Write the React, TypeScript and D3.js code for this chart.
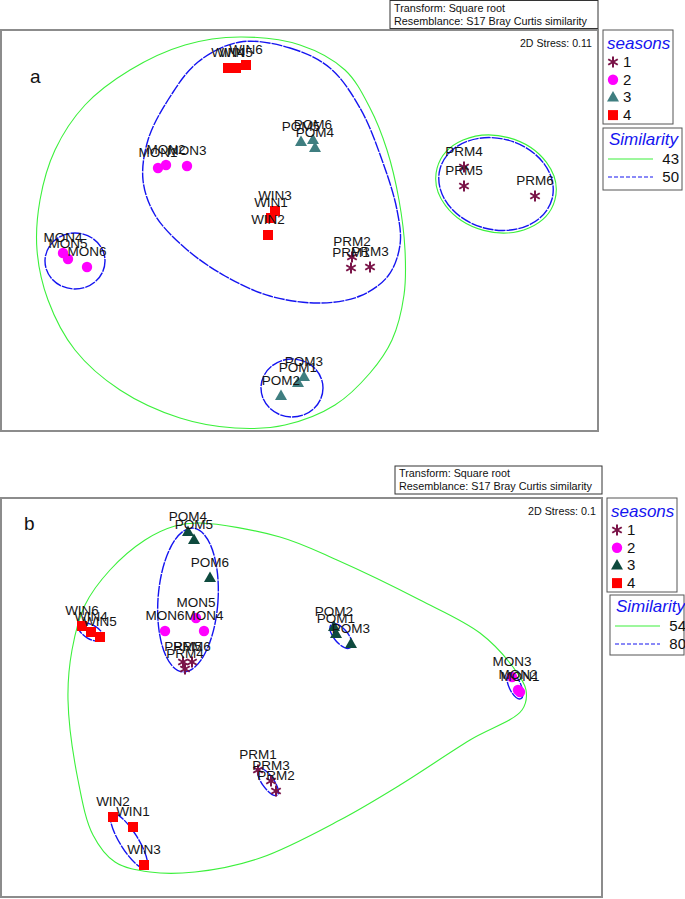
import React from 'react';
import * as d3 from 'd3';

// ---------- DATA: panel a (NMDS coordinates) ----------
const labelsA = ['WIN4', 'WIN5', 'WIN6', 'WIN3', 'WIN1', 'WIN2', 'MON1', 'MON2', 'MON3', 'MON4', 'MON5', 'MON6',
  'POM5', 'POM6', 'POM4', 'POM3', 'POM1', 'POM2', 'PRM4', 'PRM5', 'PRM6', 'PRM2', 'PRM1', 'PRM3'];
const seasonA = [4, 4, 4, 4, 4, 4, 2, 2, 2, 2, 2, 2, 3, 3, 3, 3, 3, 3, 1, 1, 1, 1, 1, 1];
const mds1A = [-0.72, -0.64, -0.54, -0.25, -0.29, -0.32, -1.42, -1.34, -1.13, -2.37, -2.32, -2.13,
  0.01, 0.13, 0.15, 0.04, -0.02, -0.19, 1.64, 1.64, 2.35, 0.52, 0.51, 0.70];
const mds2A = [1.62, 1.62, 1.65, 0.19, 0.12, -0.05, 0.62, 0.65, 0.64, -0.23, -0.29, -0.37,
  0.88, 0.90, 0.82, -1.47, -1.53, -1.66, 0.63, 0.44, 0.34, -0.27, -0.38, -0.37];

const contourA43: [number, number][] = [
  [-0.60, 1.93], [0.00, 1.85], [0.45, 1.60], [0.70, 1.22], [0.87, 0.80], [0.99, 0.30], [1.05, -0.20],
  [1.04, -0.65], [0.92, -1.10], [0.70, -1.43], [0.35, -1.75], [-0.15, -1.95], [-0.65, -1.98],
  [-1.20, -1.88], [-1.80, -1.60], [-2.25, -1.20], [-2.52, -0.70], [-2.63, -0.20], [-2.60, 0.30],
  [-2.45, 0.80], [-2.15, 1.25], [-1.70, 1.60], [-1.15, 1.85]];
const contourA50: [number, number][] = [
  [-0.60, 1.88], [-0.10, 1.82], [0.30, 1.62], [0.60, 1.22], [0.82, 0.70], [0.97, 0.20], [1.00, -0.15],
  [0.88, -0.46], [0.60, -0.66], [0.20, -0.73], [-0.30, -0.66], [-0.75, -0.46], [-1.15, -0.18],
  [-1.45, 0.15], [-1.57, 0.50], [-1.52, 0.90], [-1.32, 1.30], [-1.02, 1.68]];
const ellipsesA = [
  { level: 50, cx: -2.25, cy: -0.31, rx: 0.30, ry: 0.28, angle: 0 },
  { level: 50, cx: -0.08, cy: -1.58, rx: 0.31, ry: 0.29, angle: 0 },
  { level: 43, cx: 1.96, cy: 0.46, rx: 0.61, ry: 0.48, angle: 15 },
  { level: 50, cx: 1.96, cy: 0.46, rx: 0.58, ry: 0.455, angle: 15 },
];
const levelsA = [43, 50];

// ---------- DATA: panel b ----------
const labelsB = ['POM4', 'POM5', 'POM6', 'MON5', 'MON6', 'MON4', 'PRM4', 'PRM5', 'PRM6', 'WIN6', 'WIN4', 'WIN5',
  'POM2', 'POM1', 'POM3', 'MON3', 'MON2', 'MON1', 'PRM1', 'PRM3', 'PRM2', 'WIN2', 'WIN1', 'WIN3'];
const seasonB = [3, 3, 3, 2, 2, 2, 1, 1, 1, 4, 4, 4, 3, 3, 3, 2, 2, 2, 1, 1, 1, 4, 4, 4];
const mds1B = [-1.12, -1.06, -0.90, -1.04, -1.35, -0.96, -1.15, -1.17, -1.08, -2.18, -2.09, -2.00,
  0.34, 0.36, 0.51, 2.12, 2.18, 2.20, -0.42, -0.29, -0.24, -1.87, -1.67, -1.56];
const mds2B = [1.66, 1.58, 1.20, 0.80, 0.67, 0.67, 0.29, 0.36, 0.36, 0.72, 0.66, 0.61,
  0.71, 0.64, 0.54, 0.21, 0.08, 0.06, -0.72, -0.83, -0.93, -1.19, -1.29, -1.67];

const contourB54: [number, number][] = [
  [-1.00, 1.75], [-0.20, 1.61], [0.37, 1.38], [1.20, 0.98], [1.80, 0.65], [2.13, 0.31], [2.26, 0.08],
  [2.22, -0.12], [1.70, -0.42], [1.00, -0.87], [0.40, -1.22], [-0.40, -1.60], [-1.05, -1.74],
  [-1.50, -1.74], [-1.85, -1.64], [-2.07, -1.37], [-2.22, -0.82], [-2.32, -0.02], [-2.28, 0.48],
  [-2.15, 0.93], [-1.90, 1.28], [-1.55, 1.58], [-1.25, 1.72]];
const ellipsesB = [
  { level: 80, cx: -1.12, cy: 0.98, rx: 0.30, ry: 0.72, angle: 4 },
  { level: 80, cx: -2.09, cy: 0.66, rx: 0.14, ry: 0.07, angle: 30 },
  { level: 80, cx: 0.41, cy: 0.62, rx: 0.15, ry: 0.07, angle: 50 },
  { level: 80, cx: 2.15, cy: 0.12, rx: 0.14, ry: 0.06, angle: 65 },
  { level: 80, cx: -0.32, cy: -0.84, rx: 0.16, ry: 0.06, angle: 55 },
  { level: 80, cx: -1.71, cy: -1.43, rx: 0.32, ry: 0.09, angle: 58 },
];
const levelsB = [54, 80];

const seasonKeys = [1, 2, 3, 4];

// ---------- STYLE ----------
const GREEN = '#3cf03c';
const BLUE = '#1414f0';
const STAR = '#7a1448';
const CIRC = '#ff00ff';
const SQR = '#ff0000';
const FONT = "'Liberation Sans', Arial, sans-serif";
const NARROW = "'Liberation Sans Narrow', 'Liberation Sans', Arial, sans-serif";

function Sym({ s, x, y, tri }: { s: number; x: number; y: number; tri: string }) {
  if (s === 1) {
    const r = 5.5;
    const a = r * Math.cos(Math.PI / 6), b = r * Math.sin(Math.PI / 6);
    return (
      <g stroke={STAR} strokeWidth={2} strokeLinecap="butt">
        <line x1={x} y1={y - r} x2={x} y2={y + r} />
        <line x1={x - a} y1={y - b} x2={x + a} y2={y + b} />
        <line x1={x - a} y1={y + b} x2={x + a} y2={y - b} />
      </g>
    );
  }
  if (s === 2) return <circle cx={x} cy={y} r={5.2} fill={CIRC} />;
  if (s === 3) return <path d={`M${x},${y - 6.5}L${x + 6},${y + 4}L${x - 6},${y + 4}Z`} fill={tri} />;
  return <rect x={x - 5} y={y - 5} width={10} height={10} fill={SQR} />;
}

interface PanelCfg {
  x0: number; x1: number; y0: number; y1: number;
  xDomain: [number, number]; yDomain: [number, number];
  letter: string; letterX: number; letterY: number;
  stress: string; stressLen: number; stressX: number;
  boxX: number; boxY: number;
  legX: number; legY: number; legW: number;
  simX: number; simY: number; simW: number; simH: number;
  labels: string[]; seasons: number[]; m1: number[]; m2: number[];
  contours: { level: number; pts: [number, number][] }[];
  ellipses: { level: number; cx: number; cy: number; rx: number; ry: number; angle: number }[];
  levels: number[];
  tri: string;
}

function Panel({ c }: { c: PanelCfg }) {
  const xs = d3.scaleLinear().domain(c.xDomain).range([c.x0, c.x1]);
  const ys = d3.scaleLinear().domain(c.yDomain).range([c.y0, c.y1]);
  const line = d3.line<[number, number]>().x(d => xs(d[0])).y(d => ys(d[1])).curve(d3.curveCatmullRomClosed.alpha(0.5));
  const lowLevel = c.levels[0];
  const styleFor = (lv: number) => lv === lowLevel
    ? { stroke: GREEN, strokeWidth: 1.1, strokeDasharray: undefined as any }
    : { stroke: BLUE, strokeWidth: 1.4, strokeDasharray: '11,1' };
  const kx = xs(1) - xs(0);
  const ky = ys(0) - ys(1);
  return (
    <g>
      {/* transform box */}
      <rect x={c.boxX} y={c.boxY} width={c.x1 - c.boxX} height={28} fill="white" stroke="#333" strokeWidth={1} />
      <text x={c.boxX + 4} y={c.boxY + 11} fontFamily={NARROW} fontSize={11} fill="#111" textLength={111} lengthAdjust="spacingAndGlyphs">Transform: Square root</text>
      <text x={c.boxX + 4} y={c.boxY + 24} fontFamily={NARROW} fontSize={11} fill="#111" textLength={193} lengthAdjust="spacingAndGlyphs">Resemblance: S17 Bray Curtis similarity</text>
      {/* frame */}
      <rect x={c.x0 + 1} y={c.y0} width={c.x1 - c.x0 - 1} height={c.y1 - c.y0} fill="white" stroke="#8c8c8c" strokeWidth={2} />
      <text x={c.letterX} y={c.letterY} fontFamily={FONT} fontSize={19} fill="#111">{c.letter}</text>
      <text x={c.stressX} y={c.y0 + 17} textAnchor="end" fontFamily={NARROW} fontSize={11} fill="#111" textLength={c.stressLen} lengthAdjust="spacingAndGlyphs">{c.stress}</text>
      {/* contours */}
      {c.contours.map((ct, i) => (
        <path key={'c' + i} d={line(ct.pts) || ''} fill="none" {...styleFor(ct.level)} />
      ))}
      {c.ellipses.map((e, i) => (
        <ellipse key={'e' + i} cx={xs(e.cx)} cy={ys(e.cy)} rx={e.rx * kx} ry={e.ry * ky}
          transform={`rotate(${e.angle},${xs(e.cx)},${ys(e.cy)})`} fill="none" {...styleFor(e.level)} />
      ))}
      {/* points */}
      {c.labels.map((l, i) => (
        <Sym key={'p' + i} s={c.seasons[i]} x={xs(c.m1[i])} y={ys(c.m2[i])} tri={c.tri} />
      ))}
      {c.labels.map((l, i) => (
        <text key={'l' + i} x={xs(c.m1[i])} y={ys(c.m2[i]) - 11} textAnchor="middle" fontFamily={FONT} fontSize={13.5} fill="#151515">{l}</text>
      ))}
      {/* seasons legend */}
      <rect x={c.legX} y={c.legY} width={c.legW} height={94} fill="white" stroke="#555" strokeWidth={1} />
      <text x={c.legX + 4} y={c.legY + 19} fontFamily={FONT} fontStyle="italic" fontSize={17} fill={BLUE}>seasons</text>
      {seasonKeys.map((s, i) => (
        <g key={'k' + i}>
          <Sym s={s} x={c.legX + 10} y={c.legY + 32 + i * 17.7} tri={c.tri} />
          <text x={c.legX + 20} y={c.legY + 37 + i * 17.7} fontFamily={FONT} fontSize={15} fill="#111">{s}</text>
        </g>
      ))}
      {/* similarity legend */}
      <rect x={c.simX} y={c.simY} width={c.simW} height={c.simH} fill="white" stroke="#555" strokeWidth={1} />
      <text x={c.simX + 6} y={c.simY + 17} fontFamily={FONT} fontStyle="italic" fontSize={17} fill={BLUE}>Similarity</text>
      {c.levels.map((lv, i) => (
        <g key={'s' + i}>
          <line x1={c.simX + 5} x2={c.simX + 50} y1={c.simY + 31 + i * 18} y2={c.simY + 31 + i * 18}
            stroke={i === 0 ? GREEN : BLUE} strokeWidth={1.2} strokeDasharray={i === 0 ? undefined : '4,2'} />
          <text x={c.simX + 76} y={c.simY + 36 + i * 18} textAnchor="end" fontFamily={FONT} fontSize={15} fill="#111">{lv}</text>
        </g>
      ))}
    </g>
  );
}

const panelA: PanelCfg = {
  x0: 0, x1: 598, y0: 30, y1: 431,
  xDomain: [-3, 2.98], yDomain: [2, -2.01],
  letter: 'a', letterX: 30, letterY: 83,
  stress: '2D Stress: 0.11', stressLen: 72, stressX: 592,
  boxX: 390, boxY: 0.5,
  legX: 603, legY: 30, legW: 70,
  simX: 603, simY: 128, simW: 79, simH: 62,
  labels: labelsA, seasons: seasonA, m1: mds1A, m2: mds2A,
  contours: [{ level: 43, pts: contourA43 }, { level: 50, pts: contourA50 }],
  ellipses: ellipsesA, levels: levelsA, tri: '#3f7e80',
};

const panelB: PanelCfg = {
  x0: 0, x1: 602, y0: 498, y1: 897,
  xDomain: [-3, 3.02], yDomain: [2, -1.99],
  letter: 'b', letterX: 24, letterY: 530,
  stress: '2D Stress: 0.1', stressLen: 68, stressX: 596,
  boxX: 395, boxY: 466,
  legX: 607, legY: 498, legW: 70,
  simX: 610, simY: 595, simW: 74, simH: 60,
  labels: labelsB, seasons: seasonB, m1: mds1B, m2: mds2B,
  contours: [{ level: 54, pts: contourB54 }],
  ellipses: ellipsesB, levels: levelsB, tri: '#0e4a3e',
};

export default function App() {
  return (
    <svg width={685} height={899} viewBox="0 0 685 899"
      style={{ position: 'absolute', left: 0, top: 0, background: 'white' }}>
      <rect x={0} y={0} width={685} height={899} fill="white" />
      <Panel c={panelA} />
      <Panel c={panelB} />
    </svg>
  );
}
